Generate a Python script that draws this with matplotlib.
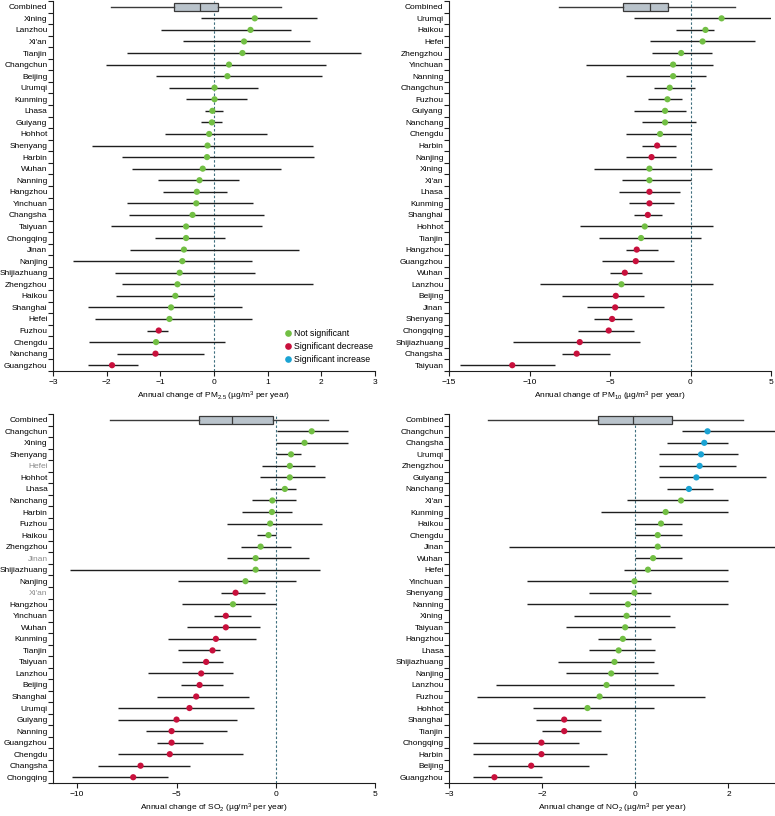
import numpy as np
import matplotlib.pyplot as plt
from matplotlib.lines import Line2D

# --- fonts ---
plt.rcParams['font.family'] = ['Liberation Sans', 'DejaVu Sans']
plt.rcParams['mathtext.fontset'] = 'custom'
plt.rcParams['mathtext.rm'] = 'Liberation Sans'
plt.rcParams['mathtext.default'] = 'regular'

# --- data: estimate, CI low, CI high, significance (n = not, d = decrease, i = increase) ---
# combined box = [whisker low, q1, median, q3, whisker high]

pm25_cities = ["Xining", "Lanzhou", "Xi'an", "Tianjin", "Changchun", "Beijing", "Urumqi",
               "Kunming", "Lhasa", "Guiyang", "Hohhot", "Shenyang", "Harbin", "Wuhan",
               "Nanning", "Hangzhou", "Yinchuan", "Changsha", "Taiyuan", "Chongqing", "Jinan",
               "Nanjing", "Shijiazhuang", "Zhengzhou", "Haikou", "Shanghai", "Hefei", "Fuzhou",
               "Chengdu", "Nanchang", "Guangzhou"]
pm25_est = [0.76, 0.68, 0.56, 0.53, 0.28, 0.25, 0.01, 0.01, -0.03, -0.04, -0.09, -0.12, -0.13,
            -0.21, -0.27, -0.32, -0.33, -0.40, -0.52, -0.52, -0.56, -0.59, -0.64, -0.68, -0.72,
            -0.80, -0.83, -1.03, -1.08, -1.09, -1.90]
pm25_lo = [-0.25, -0.98, -0.57, -1.62, -2.01, -1.09, -0.83, -0.52, -0.17, -0.25, -0.91, -2.28,
           -1.71, -1.52, -1.05, -0.95, -1.62, -1.58, -1.92, -1.10, -1.57, -2.62, -1.85, -1.72,
           -1.82, -2.34, -2.21, -1.24, -2.32, -1.80, -2.34]
pm25_hi = [1.91, 1.43, 1.79, 2.74, 2.08, 2.01, 0.82, 0.62, 0.17, 0.14, 0.99, 1.84, 1.86, 1.24,
           0.47, 0.24, 0.72, 0.94, 0.90, 0.20, 1.59, 0.71, 0.76, 1.85, 0.00, 0.53, 0.71, -0.86,
           0.20, -0.19, -1.42]
pm25_sig = ["n"] * 27 + ["d", "n", "d", "d"]
pm25_box = [-1.92, -0.74, -0.27, 0.07, 1.24]

pm10_cities = ["Urumqi", "Haikou", "Hefei", "Zhengzhou", "Yinchuan", "Nanning", "Changchun",
               "Fuzhou", "Guiyang", "Nanchang", "Chengdu", "Harbin", "Nanjing", "Xining", "Xi'an",
               "Lhasa", "Kunming", "Shanghai", "Hohhot", "Tianjin", "Hangzhou", "Guangzhou",
               "Wuhan", "Lanzhou", "Beijing", "Jinan", "Shenyang", "Chongqing", "Shijiazhuang",
               "Changsha", "Taiyuan"]
pm10_est = [1.93, 0.93, 0.75, -0.58, -1.08, -1.08, -1.29, -1.43, -1.58, -1.58, -1.89, -2.07,
            -2.42, -2.55, -2.55, -2.55, -2.55, -2.65, -2.84, -3.07, -3.34, -3.40, -4.08, -4.29,
            -4.64, -4.68, -4.87, -5.08, -6.88, -7.07, -11.07]
pm10_lo = [-3.50, -0.87, -2.51, -2.40, -6.51, -4.00, -2.26, -2.67, -3.50, -3.01, -4.00, -3.01,
           -4.00, -6.01, -4.25, -4.41, -3.79, -3.50, -6.88, -5.68, -4.00, -5.51, -5.02, -9.33,
           -8.00, -6.42, -6.01, -7.00, -11.00, -8.00, -14.34]
pm10_hi = [5.40, 1.47, 4.00, 1.33, 1.39, 0.99, 0.31, -0.52, -0.27, 0.37, 0.00, -0.87, -0.87,
           1.33, 0.00, -0.66, -1.02, -1.76, 1.37, 0.66, -2.01, -1.02, -3.01, 1.39, -2.86, -1.66,
           -3.65, -3.52, -3.15, -5.02, -8.44]
pm10_sig = ["n"] * 11 + ["d", "d", "n", "n", "d", "d", "d", "n", "n", "d", "d", "d", "n",
                         "d", "d", "d", "d", "d", "d", "d"]
pm10_box = [-8.19, -4.17, -2.49, -1.37, 2.74]

so2_cities = ["Changchun", "Xining", "Shenyang", "Hefei", "Hohhot", "Lhasa", "Nanchang", "Harbin",
              "Fuzhou", "Haikou", "Zhengzhou", "Jinan", "Shijiazhuang", "Nanjing", "Xi'an",
              "Hangzhou", "Yinchuan", "Wuhan", "Kunming", "Tianjin", "Taiyuan", "Lanzhou",
              "Beijing", "Shanghai", "Urumqi", "Guiyang", "Nanning", "Guangzhou", "Chengdu",
              "Changsha", "Chongqing"]
so2_est = [1.80, 1.44, 0.76, 0.70, 0.70, 0.45, -0.18, -0.20, -0.29, -0.37, -0.77, -1.02, -1.02,
           -1.53, -2.03, -2.16, -2.52, -2.52, -3.02, -3.19, -3.51, -3.76, -3.84, -4.01, -4.35,
           -5.00, -5.25, -5.25, -5.34, -6.81, -7.18]
so2_lo = [0.03, 0.00, 0.00, -0.72, -0.79, -0.32, -1.22, -1.73, -2.48, -0.97, -1.78, -2.48,
          -10.35, -4.95, -2.77, -4.70, -3.14, -4.45, -5.44, -4.95, -4.73, -6.44, -4.77, -5.96,
          -7.94, -7.94, -6.56, -5.96, -7.94, -8.93, -10.25]
so2_hi = [3.64, 3.64, 1.24, 1.96, 2.48, 0.99, 0.99, 0.79, 2.32, 0.00, 0.76, 1.66, 2.23, 0.99,
          -0.57, 0.00, -1.24, -0.79, -0.99, -2.82, -2.65, -2.16, -2.65, -1.33, -1.12, -1.98,
          -2.48, -3.67, -1.64, -4.31, -5.44]
so2_sig = ["n"] * 14 + ["d", "n"] + ["d"] * 15
so2_box = [-8.37, -3.88, -2.20, -0.15, 2.63]
so2_gray = ["Hefei", "Jinan", "Xi'an"]

no2_cities = ["Changchun", "Changsha", "Urumqi", "Zhengzhou", "Guiyang", "Nanchang", "Xi'an",
              "Kunming", "Haikou", "Chengdu", "Jinan", "Wuhan", "Hefei", "Yinchuan", "Shenyang",
              "Nanning", "Xining", "Taiyuan", "Hangzhou", "Lhasa", "Shijiazhuang", "Nanjing",
              "Lanzhou", "Fuzhou", "Hohhot", "Shanghai", "Tianjin", "Chongqing", "Harbin",
              "Beijing", "Guangzhou"]
no2_est = [1.55, 1.48, 1.41, 1.38, 1.31, 1.15, 0.98, 0.65, 0.55, 0.48, 0.48, 0.38, 0.27, -0.02,
           -0.02, -0.16, -0.19, -0.22, -0.27, -0.36, -0.45, -0.52, -0.62, -0.77, -1.03, -1.53,
           -1.53, -2.02, -2.02, -2.24, -3.03]
no2_lo = [1.00, 0.67, 0.50, 0.50, 0.50, 0.67, -0.19, -0.75, 0.00, 0.00, -2.72, 0.00, -0.25,
          -2.33, -1.00, -2.33, -1.33, -1.50, -0.80, -1.00, -1.66, -1.50, -3.00, -3.40, -2.20,
          -2.14, -2.00, -3.50, -3.50, -3.16, -3.50]
no2_hi = [3.20, 2.00, 2.20, 2.16, 2.80, 1.66, 2.00, 2.00, 1.00, 1.00, 3.20, 1.00, 2.00, 2.00,
          0.33, 2.00, 0.75, 0.85, 0.33, 0.43, 0.39, 0.49, 0.83, 1.50, 0.39, -0.75, -0.75, -1.22,
          -0.60, -1.00, -2.00]
no2_sig = ["i"] * 6 + ["n"] * 19 + ["d"] * 6
no2_box = [-3.16, -0.81, -0.06, 0.78, 2.32]

sig_colors = {"n": "#72bf44", "d": "#c8103c", "i": "#1ba3d3"}
sig_names = {"n": "Not significant", "d": "Significant decrease", "i": "Significant increase"}

FS = 6.0
INK = "#1e1e1e"


def draw_panel(ax, cities, est, lo, hi, sig, box, xlim, xticks, xticklabels, xlabel,
               gray_labels=()):
    n = len(cities)
    y = np.arange(1, n + 1)

    ax.axvline(0, color="#3f6f7f", lw=0.8, ls=(0, (2.2, 1.8)), zorder=1)
    ax.hlines(y, lo, hi, color=INK, lw=1.0, zorder=2)
    ax.scatter(est, y, s=20, c=[sig_colors[s] for s in sig], edgecolors="none", zorder=3)

    stats = [dict(whislo=box[0], q1=box[1], med=box[2], q3=box[3], whishi=box[4], fliers=[])]
    ax.bxp(stats, positions=[0], widths=0.68, orientation="horizontal", patch_artist=True,
           showfliers=False, showcaps=False, manage_ticks=False,
           boxprops=dict(facecolor="#b9c3cb", edgecolor="#3a3a3a", lw=0.9),
           medianprops=dict(color="#3a3a3a", lw=0.9),
           whiskerprops=dict(color="#3a3a3a", lw=1.0))

    ax.set_ylim(n + 0.5, -0.5)
    ax.set_xlim(*xlim)
    ax.set_yticks(np.arange(n + 1))
    ax.set_yticklabels(["Combined"] + list(cities), fontsize=FS)
    ax.set_yticks(np.arange(-0.5, n + 1), minor=True)
    ax.tick_params(axis="y", which="major", length=0, pad=4)
    ax.tick_params(axis="y", which="minor", length=3.5, width=0.8, color=INK)
    ax.set_xticks(xticks)
    ax.set_xticklabels(xticklabels, fontsize=FS)
    ax.tick_params(axis="x", length=3.5, width=0.8, color=INK, pad=2.5)
    ax.set_xlabel(xlabel, fontsize=FS, labelpad=2.5)

    for lab in ax.get_yticklabels():
        if lab.get_text() in gray_labels:
            lab.set_color("#8c8c8c")

    for side in ["top", "right"]:
        ax.spines[side].set_visible(False)
    for side in ["left", "bottom"]:
        ax.spines[side].set_linewidth(0.8)
        ax.spines[side].set_color(INK)


fig = plt.figure(figsize=(7.75, 8.16), dpi=100)
W, H = 775.0, 816.0


def px_axes(x0, y0, x1, y1):
    return fig.add_axes([x0 / W, 1 - y1 / H, (x1 - x0) / W, (y1 - y0) / H])


ax1 = px_axes(53, 1, 375, 371)
ax2 = px_axes(449, 1, 771, 371)
ax3 = px_axes(53.3, 414, 375.3, 783)
ax4 = px_axes(449.3, 414, 775, 783)

unit = "(µg/m$^{3}$ per year)"
draw_panel(ax1, pm25_cities, pm25_est, pm25_lo, pm25_hi, pm25_sig, pm25_box,
           (-3, 3), [-3, -2, -1, 0, 1, 2, 3], ["−3", "−2", "−1", "0", "1", "2", "3"],
           "Annual change of PM$_{2.5}$ " + unit)
draw_panel(ax2, pm10_cities, pm10_est, pm10_lo, pm10_hi, pm10_sig, pm10_box,
           (-15, 5), [-15, -10, -5, 0, 5], ["−15", "−10", "−5", "0", "5"],
           "Annual change of PM$_{10}$ " + unit)
draw_panel(ax3, so2_cities, so2_est, so2_lo, so2_hi, so2_sig, so2_box,
           (-11.2, 5), [-10, -5, 0, 5], ["−10", "−5", "0", "5"],
           "Annual change of SO$_{2}$ " + unit, gray_labels=so2_gray)
# tick labels as printed in the original figure
draw_panel(ax4, no2_cities, no2_est, no2_lo, no2_hi, no2_sig, no2_box,
           (-4, 3), [-4, -2, 0, 2], ["−3", "−2", "0", "2"],
           "Annual change of NO$_{2}$ " + unit)

handles = [Line2D([], [], marker="o", ls="", ms=4.8, markeredgewidth=0, color=sig_colors[k])
           for k in ["n", "d", "i"]]
ax1.legend(handles, [sig_names[k] for k in ["n", "d", "i"]], loc="lower right",
           bbox_to_anchor=(1.0, 0.015), frameon=False, fontsize=6.3, handlelength=0.8,
           handletextpad=0.3, labelspacing=0.45, borderpad=0.2, borderaxespad=0)

fig.savefig("out.png", dpi=100)
